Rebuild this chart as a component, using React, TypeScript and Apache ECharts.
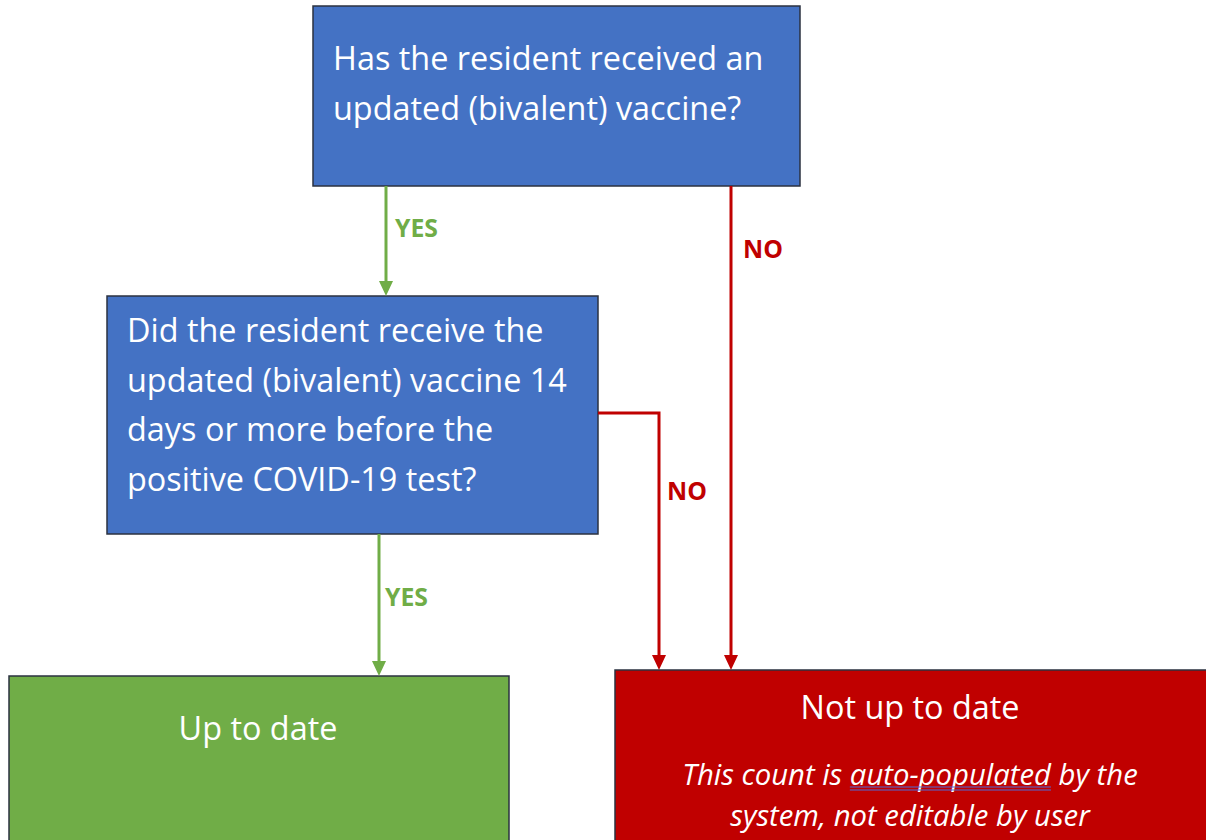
import React, { useEffect, useRef } from "react";
import * as echarts from "echarts";

const question1Lines = ["Has the resident received an", "updated (bivalent) vaccine?"];
const question2Lines = [
  "Did the resident receive the",
  "updated (bivalent) vaccine 14",
  "days or more before the",
  "positive COVID-19 test?",
];
const upToDateLabel = "Up to date";
const notUpToDateLabel = "Not up to date";
const noteLine1Parts = ["This count is ", "auto-populated", " by the"];
const noteLine2 = "system, not editable by user";
const yesLabel = "YES";
const noLabel = "NO";

const FAM = "'Open Sans'";
const FONT = "'Open Sans', sans-serif";
const BLUE = "#4472C4";
const GREEN = "#70AD47";
const RED = "#C00000";
const BORDER = "#2B3240";

function measure(text: string, font: string): number {
  const c = document.createElement("canvas");
  const ctx = c.getContext("2d")!;
  ctx.font = font;
  return ctx.measureText(text).width;
}

function fitSize(text: string, target: number, prefix: string): number {
  const w = measure(text, `${prefix} 100px ${FAM}`);
  return Math.round((100 * target) / w * 10) / 10;
}

function arrowDown(x: number, y1: number, y2: number, color: string): any[] {
  return [
    { type: "line", shape: { x1: x, y1, x2: x, y2: y2 - 12 }, style: { stroke: color, lineWidth: 3 } },
    {
      type: "polygon",
      shape: { points: [[x - 7, y2 - 15], [x + 7, y2 - 15], [x, y2]] },
      style: { fill: color },
    },
  ];
}

function textEl(x: number, y: number, text: string, opts: any = {}): any {
  return {
    type: "text",
    x,
    y,
    style: {
      text,
      fill: opts.fill || "#ffffff",
      font: opts.font,
      align: opts.align || "left",
      verticalAlign: "middle",
    },
  };
}

export default function App() {
  const ref = useRef<HTMLDivElement>(null);
  useEffect(() => {
    const chart = echarts.init(ref.current!, null, { renderer: "svg" });
    const els: any[] = [];

    const mainSize = fitSize(question1Lines[0], 431, "");
    const mfont = `${mainSize}px ${FONT}`;
    const italicSize = fitSize(noteLine1Parts.join(""), 455, "italic");
    const ifont = `italic ${italicSize}px ${FONT}`;
    const labelSize = fitSize(yesLabel, 43, "bold");
    const lfont = `bold ${labelSize}px ${FONT}`;

    // boxes
    els.push({ type: "rect", shape: { x: 313, y: 6, width: 487, height: 180 }, style: { fill: BLUE, stroke: BORDER, lineWidth: 1.5 } });
    els.push({ type: "rect", shape: { x: 107, y: 296, width: 491, height: 238 }, style: { fill: BLUE, stroke: BORDER, lineWidth: 1.5 } });
    els.push({ type: "rect", shape: { x: 9, y: 676, width: 500, height: 170 }, style: { fill: GREEN, stroke: BORDER, lineWidth: 1.5 } });
    els.push({ type: "rect", shape: { x: 615, y: 670, width: 600, height: 180 }, style: { fill: RED, stroke: BORDER, lineWidth: 1.5 } });

    // texts in boxes
    question1Lines.forEach((t, i) => els.push(textEl(333, 57 + i * 49.5, t, { font: mfont })));
    question2Lines.forEach((t, i) => els.push(textEl(127, 329 + i * 49.5, t, { font: mfont })));
    els.push(textEl(258, 727, upToDateLabel, { align: "center", font: mfont }));
    els.push(textEl(910, 706, notUpToDateLabel, { align: "center", font: mfont }));

    // italic note with underline
    const full = noteLine1Parts.join("");
    const fullW = measure(full, ifont);
    const startX = 910 - fullW / 2;
    els.push(textEl(910, 774, full, { font: ifont, align: "center" }));
    const preW = measure(noteLine1Parts[0], ifont);
    const midW = measure(noteLine1Parts[1], ifont);
    const ux1 = startX + preW;
    const ux2 = ux1 + midW;
    els.push({ type: "line", shape: { x1: ux1, y1: 787, x2: ux2, y2: 787 }, style: { stroke: "#4F6BD8", lineWidth: 1.2 } });
    els.push({ type: "line", shape: { x1: ux1, y1: 790, x2: ux2, y2: 790 }, style: { stroke: "#4F6BD8", lineWidth: 1.2 } });
    els.push(textEl(910, 815, noteLine2, { font: ifont, align: "center" }));

    // arrows
    els.push(...arrowDown(386, 186, 296, GREEN));
    els.push(...arrowDown(379, 534, 676, GREEN));
    els.push(...arrowDown(731, 186, 670, RED));
    els.push({
      type: "polyline",
      shape: { points: [[598, 413], [659, 413], [659, 658]] },
      style: { stroke: RED, lineWidth: 3, fill: null },
    });
    els.push({
      type: "polygon",
      shape: { points: [[652, 655], [666, 655], [659, 670]] },
      style: { fill: RED },
    });

    // edge labels
    els.push(textEl(395, 227, yesLabel, { fill: GREEN, font: lfont }));
    els.push(textEl(385, 596, yesLabel, { fill: GREEN, font: lfont }));
    els.push(textEl(743, 248, noLabel, { fill: RED, font: lfont }));
    els.push(textEl(667, 490, noLabel, { fill: RED, font: lfont }));

    chart.setOption({ animation: false, graphic: { elements: els } });
    return () => chart.dispose();
  }, []);
  return (
    <div
      ref={ref}
      style={{ position: "absolute", left: 0, top: 0, width: 1206, height: 840, background: "#ffffff" }}
    />
  );
}
